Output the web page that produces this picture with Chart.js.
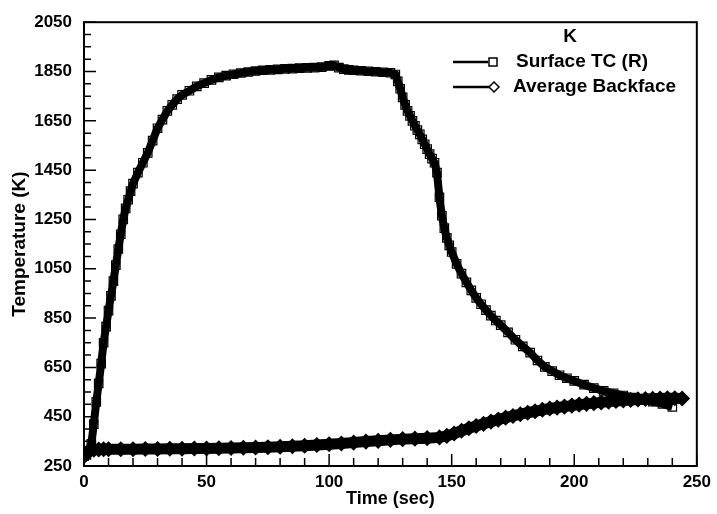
<!DOCTYPE html>
<html>
<head>
<meta charset="utf-8">
<script src="https://cdn.jsdelivr.net/npm/chart.js@4"></script>
<style>
  html, body { margin: 0; padding: 0; background: #fff; }
  #wrap { width: 717px; height: 514px; }
</style>
</head>
<body>
<div id="wrap"><canvas id="grafico"></canvas></div>
<script>
// valores
const surfaceTime = [0,1,2,3,4,5,6,7,8,9,10,11,12,13,14,15,16,17,18,19,20,22,24,26,28,30,32,34,36,38,40,43,46,49,52,55,58,61,64,67,70,73,76,79,82,85,88,91,94,97,100,102,104,106,108,110,113,116,119,122,125,127,128,129,130,131,132,133,134,135,136,137,138,139,140,141,142,143,144,145,146,147,148,149,150,152,154,156,158,160,162,164,166,168,170,173,176,179,182,185,188,191,194,197,200,204,208,212,216,220,224,228,232,236,240];
const surfaceTemp = [290,295,310,340,420,510,585,665,750,815,880,940,1000,1065,1130,1190,1250,1295,1330,1365,1395,1440,1480,1520,1570,1620,1655,1690,1715,1738,1755,1772,1790,1803,1816,1826,1833,1839,1844,1848,1852,1855,1857,1859,1861,1862,1864,1865,1866,1868,1873,1875,1866,1860,1857,1855,1853,1851,1849,1847,1845,1838,1810,1780,1745,1715,1690,1670,1650,1630,1612,1595,1575,1555,1535,1515,1497,1480,1440,1340,1265,1215,1175,1145,1118,1070,1030,995,962,932,906,882,860,840,821,792,762,735,710,678,652,635,618,606,595,580,566,555,545,536,527,519,511,502,490];

const backTime = [0,2,4,6,8,10,15,20,25,30,35,40,45,50,55,60,65,70,75,80,85,90,95,100,105,110,115,120,125,130,135,140,145,148,151,154,157,160,163,166,169,172,175,178,181,184,187,190,193,196,199,202,205,208,211,214,217,220,223,226,229,232,235,238,241,244];
const backTemp = [290,312,316,317,318,318,318,318,319,319,320,320,321,321,322,323,324,325,326,328,330,332,335,338,341,345,349,352,356,359,361,363,366,372,382,393,403,412,421,430,438,446,453,460,466,472,478,483,487,491,495,499,502,505,508,511,514,516,518,520,522,523,524,525,525,524];

const xTicks = [0, 50, 100, 150, 200, 250];
const yTicks = [250, 450, 650, 850, 1050, 1250, 1450, 1650, 1850, 2050];
const legendTitle = 'K';
const surfaceLabel = 'Surface TC (R)';
const backLabel = 'Average Backface';

const boldFont = (size) => ({ family: '"Liberation Sans", Arial, sans-serif', size: size, weight: 'bold' });

// moldura, marcas internas e legenda
const moldura = {
    id: 'moldura',
    afterDraw(chart) {
        const ctx = chart.ctx;
        const a = chart.chartArea;
        const xs = chart.scales.x;
        const ys = chart.scales.y;
        ctx.save();
        ctx.strokeStyle = '#000';
        ctx.lineWidth = 2;
        ctx.strokeRect(a.left, a.top, a.right - a.left, a.bottom - a.top);

        ctx.lineWidth = 1.5;
        ctx.beginPath();
        for (let v = 0; v <= 250; v += 10) {
            const px = xs.getPixelForValue(v);
            const len = v % 50 === 0 ? 12 : 8;
            ctx.moveTo(px, a.bottom);
            ctx.lineTo(px, a.bottom - len);
        }
        for (let v = 250; v <= 2050; v += 50) {
            const py = ys.getPixelForValue(v);
            const len = (v - 250) % 200 === 0 ? 12 : 7;
            ctx.moveTo(a.left, py);
            ctx.lineTo(a.left + len, py);
        }
        ctx.stroke();

        // legenda
        ctx.fillStyle = '#000';
        ctx.font = 'bold 19px "Liberation Sans", Arial, sans-serif';
        ctx.textBaseline = 'middle';
        ctx.textAlign = 'center';
        ctx.fillText(legendTitle, 570, 37);
        ctx.textAlign = 'left';
        ctx.fillText(surfaceLabel, 516, 62);
        ctx.fillText(backLabel, 513, 87);

        ctx.lineWidth = 2.5;
        ctx.beginPath();
        ctx.moveTo(453, 62); ctx.lineTo(488, 62);
        ctx.moveTo(453, 87); ctx.lineTo(490, 87);
        ctx.stroke();
        ctx.lineWidth = 1.5;
        ctx.strokeRect(489, 58, 8, 8);
        ctx.beginPath();
        ctx.moveTo(494, 82); ctx.lineTo(499, 87); ctx.lineTo(494, 92); ctx.lineTo(489, 87); ctx.closePath();
        ctx.fillStyle = '#fff';
        ctx.fill();
        ctx.stroke();
        ctx.restore();
    }
};

new Chart(document.getElementById('grafico'), {
    type: 'scatter',
    data: {
        datasets: [{
            label: surfaceLabel,
            data: surfaceTime.map((t, i) => ({ x: t, y: surfaceTemp[i] })),
            showLine: true,
            borderColor: '#000',
            borderWidth: 8,
            pointStyle: 'rect',
            pointRadius: 6,
            pointBorderWidth: 1.2,
            pointBorderColor: '#000',
            pointBackgroundColor: 'rgba(255,255,255,0)',
        }, {
            label: backLabel,
            data: backTime.map((t, i) => ({ x: t, y: backTemp[i] })),
            showLine: true,
            borderColor: '#000',
            borderWidth: 11,
            pointStyle: 'rectRot',
            pointRadius: 7,
            pointBorderWidth: 1.5,
            pointBorderColor: '#000',
            pointBackgroundColor: '#000',
        }]
    },
    options: {
        responsive: true,
        maintainAspectRatio: false,
        animation: false,
        devicePixelRatio: 1,
        layout: { padding: { top: 16, right: 20, left: 0, bottom: 0 } },
        plugins: {
            legend: { display: false },
            tooltip: { enabled: false }
        },
        scales: {
            x: {
                type: 'linear',
                min: 0,
                max: 250,
                afterBuildTicks: s => { s.ticks = xTicks.map(v => ({ value: v })); },
                afterFit: s => { s.height = 48; },
                grid: { display: false, tickLength: 0 },
                border: { display: false },
                ticks: { color: '#000', font: boldFont(17), padding: 6, maxRotation: 0, callback: v => String(v) },
                title: { display: true, text: 'Time (sec)', color: '#000', font: boldFont(18), padding: { top: 0, bottom: 4 } }
            },
            y: {
                min: 250,
                max: 2050,
                afterBuildTicks: s => { s.ticks = yTicks.map(v => ({ value: v })); },
                afterFit: s => { s.width = 84; },
                grid: { display: false, tickLength: 0 },
                border: { display: false },
                ticks: { color: '#000', font: boldFont(17), padding: 12, callback: v => String(v) },
                title: { display: true, text: 'Temperature (K)', color: '#000', font: boldFont(19), padding: { top: 8, bottom: 0 } }
            }
        }
    },
    plugins: [moldura]
});
</script>
</body>
</html>
